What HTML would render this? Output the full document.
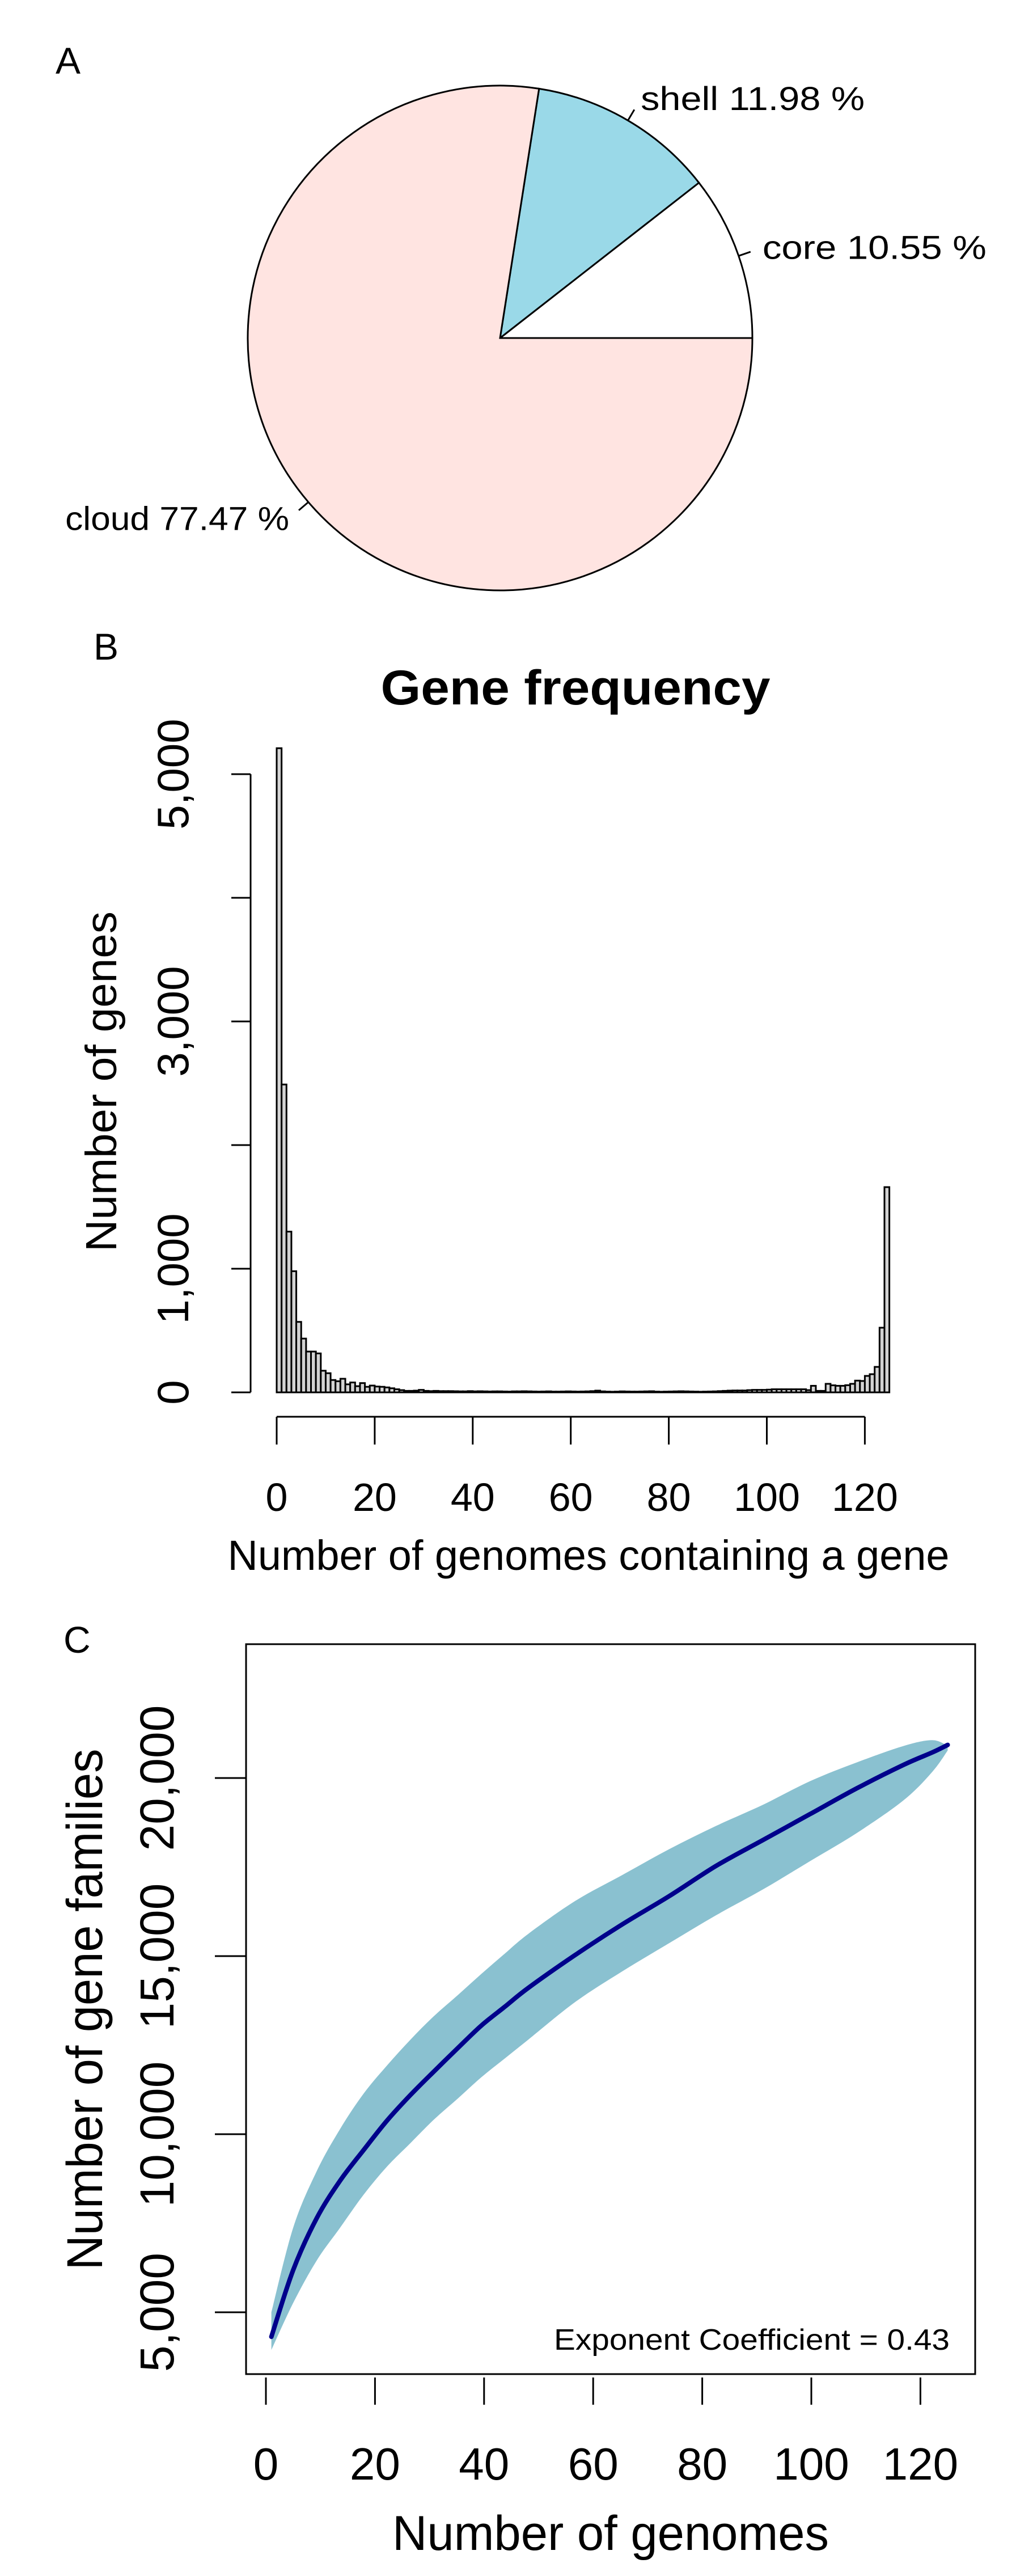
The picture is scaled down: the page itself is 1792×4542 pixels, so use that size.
<!DOCTYPE html>
<html><head><meta charset="utf-8"><style>
html,body{margin:0;padding:0;background:#fff;}
svg{display:block;font-family:"Liberation Sans",Arial,sans-serif;}
</style></head><body>
<svg id="fig" width="1792" height="4542" viewBox="0 0 1792 4542" xmlns="http://www.w3.org/2000/svg">
<rect width="1792" height="4542" fill="#fff"/>
<text x="98" y="130" font-size="66">A</text>
<g id="pie"></g>
<text x="165" y="1163" font-size="66">B</text>
<text x="1015" y="1242" font-size="86" font-weight="bold" text-anchor="middle" textLength="687" lengthAdjust="spacingAndGlyphs">Gene frequency</text>
<g id="hist"></g>
<text x="1038" y="2768" font-size="74" text-anchor="middle" textLength="1273" lengthAdjust="spacingAndGlyphs">Number of genomes containing a gene</text>
<text transform="translate(205,1907) rotate(-90)" font-size="77" text-anchor="middle" textLength="600" lengthAdjust="spacingAndGlyphs">Number of genes</text>
<text x="112" y="2914" font-size="66">C</text>
<g id="curve"></g>
<text x="1675" y="4143" font-size="52" text-anchor="end" textLength="698" lengthAdjust="spacingAndGlyphs">Exponent Coefficient = 0.43</text>
<text x="1077" y="4496" font-size="86" text-anchor="middle" textLength="770" lengthAdjust="spacingAndGlyphs">Number of genomes</text>
<text transform="translate(180,3543) rotate(-90)" font-size="89" text-anchor="middle" textLength="919" lengthAdjust="spacingAndGlyphs">Number of gene families</text>
</svg>
<script>
// ---- Pie data ----
const pieLabels = ["core", "shell", "cloud"];
const pieValues = [10.55, 11.98, 77.47];
const pieColors = ["#ffffff", "#9ad9e8", "#ffe4e1"];

// ---- Histogram data ----
const histStart = [5210, 2490, 1300, 980, 570, 435, 330, 330, 315, 175, 155, 100, 90, 110, 65, 80, 50, 75, 45, 55, 47, 45, 40, 33, 25, 18, 12, 12, 14, 20, 12, 10, 12, 10, 10, 10, 9, 8, 8, 10];
const histMiddle = [8, 9, 8, 7, 8, 8, 7, 6, 8, 8, 9, 8, 7, 6, 7, 8, 6, 6, 7, 8, 7, 6, 7, 8, 10, 14, 8, 6, 5, 6, 8, 7, 6, 6, 7, 8, 9, 6, 5, 6, 7, 8, 9, 8, 7, 6, 5, 6, 7, 8, 10, 12, 14, 15, 15, 15, 18, 20, 20, 20, 22, 25, 25];
const histEnd = [25, 25, 25, 25, 25, 18, 53, 12, 12, 69, 57, 53, 53, 58, 69, 95, 92, 133, 147, 206, 523, 1660];
const histValues = histStart.concat(histMiddle, histEnd);
const histYTicks = [0, 1000, 2000, 3000, 4000, 5000];
const histYLabels = ["0", "1,000", "", "3,000", "", "5,000"];
const histXTicks = [0, 20, 40, 60, 80, 100, 120];

// ---- Accumulation curve data ----
const curveX = [1, 5, 9.3, 13.6, 17.9, 22.2, 26.5, 30.8, 35.2, 39.5, 43.8, 48.1, 56.7, 65.3, 73.9, 82.6, 91.2, 99.8, 108.4, 117, 122.2, 125];
const curveMean = [4312, 6186, 7638, 8694, 9552, 10380, 11100, 11760, 12420, 13050, 13578, 14106, 15030, 15888, 16680, 17538, 18264, 18990, 19716, 20376, 20720, 20930];
const curveUpper = [5000, 7374, 8958, 10146, 11136, 11928, 12654, 13314, 13908, 14500, 15070, 15624, 16548, 17274, 18000, 18660, 19254, 19914, 20442, 20904, 21062, 20904];
const curveLower = [3942, 5262, 6450, 7374, 8298, 9090, 9750, 10410, 11004, 11598, 12126, 12654, 13710, 14568, 15360, 16152, 16878, 17670, 18462, 19386, 20178, 20772];
const curveYTicks = [5000, 10000, 15000, 20000];
const curveYLabels = ["5,000", "10,000", "15,000", "20,000"];
const curveXTicks = [0, 20, 40, 60, 80, 100, 120];

const NS = "http://www.w3.org/2000/svg";
function mk(parent, tag, attrs, text) {
  const el = document.createElementNS(NS, tag);
  for (const k in attrs) el.setAttribute(k, attrs[k]);
  if (text !== undefined) el.textContent = text;
  parent.appendChild(el);
  return el;
}
function spline(pts, cont) {
  let d = (cont ? "L" : "M") + pts[0][0] + "," + pts[0][1];
  for (let i = 0; i < pts.length - 1; i++) {
    const p0 = pts[Math.max(0, i - 1)], p1 = pts[i], p2 = pts[i + 1], p3 = pts[Math.min(pts.length - 1, i + 2)];
    const c1 = [p1[0] + (p2[0] - p0[0]) / 6, p1[1] + (p2[1] - p0[1]) / 6];
    const c2 = [p2[0] - (p3[0] - p1[0]) / 6, p2[1] - (p3[1] - p1[1]) / 6];
    d += "C" + c1[0] + "," + c1[1] + " " + c2[0] + "," + c2[1] + " " + p2[0] + "," + p2[1];
  }
  return d;
}

// ---- Pie ----
(function () {
  const g = document.getElementById("pie");
  const cx = 882, cy = 596, r = 445;
  const total = pieValues.reduce((a, b) => a + b, 0);
  const pt = (a, rr) => [cx + rr * Math.cos(a), cy - rr * Math.sin(a)];
  let acc = 0;
  pieValues.forEach((v, i) => {
    const a0 = acc / total * 2 * Math.PI;
    acc += v;
    const a1 = acc / total * 2 * Math.PI;
    const p0 = pt(a0, r), p1 = pt(a1, r);
    const large = (a1 - a0) > Math.PI ? 1 : 0;
    const s = mk(g, "path", { d: `M${cx},${cy} L${p0[0]},${p0[1]} A${r},${r} 0 ${large} 0 ${p1[0]},${p1[1]} Z`, fill: pieColors[i], stroke: "#000", "stroke-width": 3 });
    
    
    const am = (a0 + a1) / 2;
    const l0 = pt(am, r), l1 = pt(am, r * 1.05), lt = pt(am, r * 1.1);
    const ln = mk(g, "line", { x1: l0[0], y1: l0[1], x2: l1[0], y2: l1[1], stroke: "#000", "stroke-width": 3 });
    
    
    const right = Math.cos(am) >= 0;
    const t = mk(g, "text", { x: lt[0], y: lt[1] + 20, "font-size": 58, "text-anchor": right ? "start" : "end", textLength: 395, lengthAdjust: "spacingAndGlyphs" }, pieLabels[i] + " " + v.toFixed(2) + " %");
    
    
  });
})();

// ---- Histogram ----
(function () {
  const g = document.getElementById("hist");
  const x0 = 488, ux = 8.645, y0 = 2455, uy = 0.218;
  const X = v => x0 + v * ux, Y = v => y0 - v * uy;
  histValues.forEach((v, i) => {
    const b = mk(g, "rect", { x: X(i), y: Y(v), width: ux, height: v * uy, fill: "#d3d3d3", stroke: "#000", "stroke-width": 3 });
    
    
  });
  const ya = mk(g, "line", { x1: 442, y1: Y(5000), x2: 442, y2: Y(0), stroke: "#000", "stroke-width": 3 });
  
  
  histYTicks.forEach((v, i) => {
    const t = mk(g, "line", { x1: 408, y1: Y(v), x2: 442, y2: Y(v), stroke: "#000", "stroke-width": 3 });
    
    
    if (histYLabels[i]) {
      const l = mk(g, "text", { transform: `translate(332,${Y(v)}) rotate(-90)`, "font-size": 78, "text-anchor": "middle" }, histYLabels[i]);
      
      
    }
  });
  const xa = mk(g, "line", { x1: X(0), y1: 2498, x2: X(120), y2: 2498, stroke: "#000", "stroke-width": 3 });
  
  
  histXTicks.forEach(v => {
    const t = mk(g, "line", { x1: X(v), y1: 2498, x2: X(v), y2: 2547, stroke: "#000", "stroke-width": 3 });
    
    
    const l = mk(g, "text", { x: X(v), y: 2664, "font-size": 70, "text-anchor": "middle" }, String(v));
    
    
  });
})();

// ---- Accumulation curve ----
(function () {
  const g = document.getElementById("curve");
  const X = v => 469 + v * 9.62;
  const Y = v => 4077 - (v - 5000) * 0.0628;
  const up = curveX.map((x, i) => [X(x), Y(curveUpper[i])]);
  const lo = curveX.map((x, i) => [X(x), Y(curveLower[i])]).reverse();
  const band = mk(g, "path", { d: spline(up, false) + spline(lo, true) + "Z", fill: "#8ac1d0", stroke: "none" });
  
  
  const mp = curveX.map((x, i) => [X(x), Y(curveMean[i])]);
  const line = mk(g, "path", { d: spline(mp, false), fill: "none", stroke: "#00008b", "stroke-width": 8, "stroke-linejoin": "round", "stroke-linecap": "round" });
  
  
  const box = mk(g, "rect", { x: 434, y: 2899, width: 1286, height: 1287, fill: "none", stroke: "#000", "stroke-width": 3 });
  
  
  curveYTicks.forEach((v, i) => {
    const t = mk(g, "line", { x1: 379, y1: Y(v), x2: 434, y2: Y(v), stroke: "#000", "stroke-width": 3 });
    
    
    const l = mk(g, "text", { transform: `translate(306,${Y(v)}) rotate(-90)`, "font-size": 84, "text-anchor": "middle" }, curveYLabels[i]);
    
    
  });
  curveXTicks.forEach(v => {
    const t = mk(g, "line", { x1: X(v), y1: 4192, x2: X(v), y2: 4240, stroke: "#000", "stroke-width": 3 });
    
    
    const l = mk(g, "text", { x: X(v), y: 4372, "font-size": 80, "text-anchor": "middle" }, String(v));
    
    
  });
})();
</script>
</body></html>
